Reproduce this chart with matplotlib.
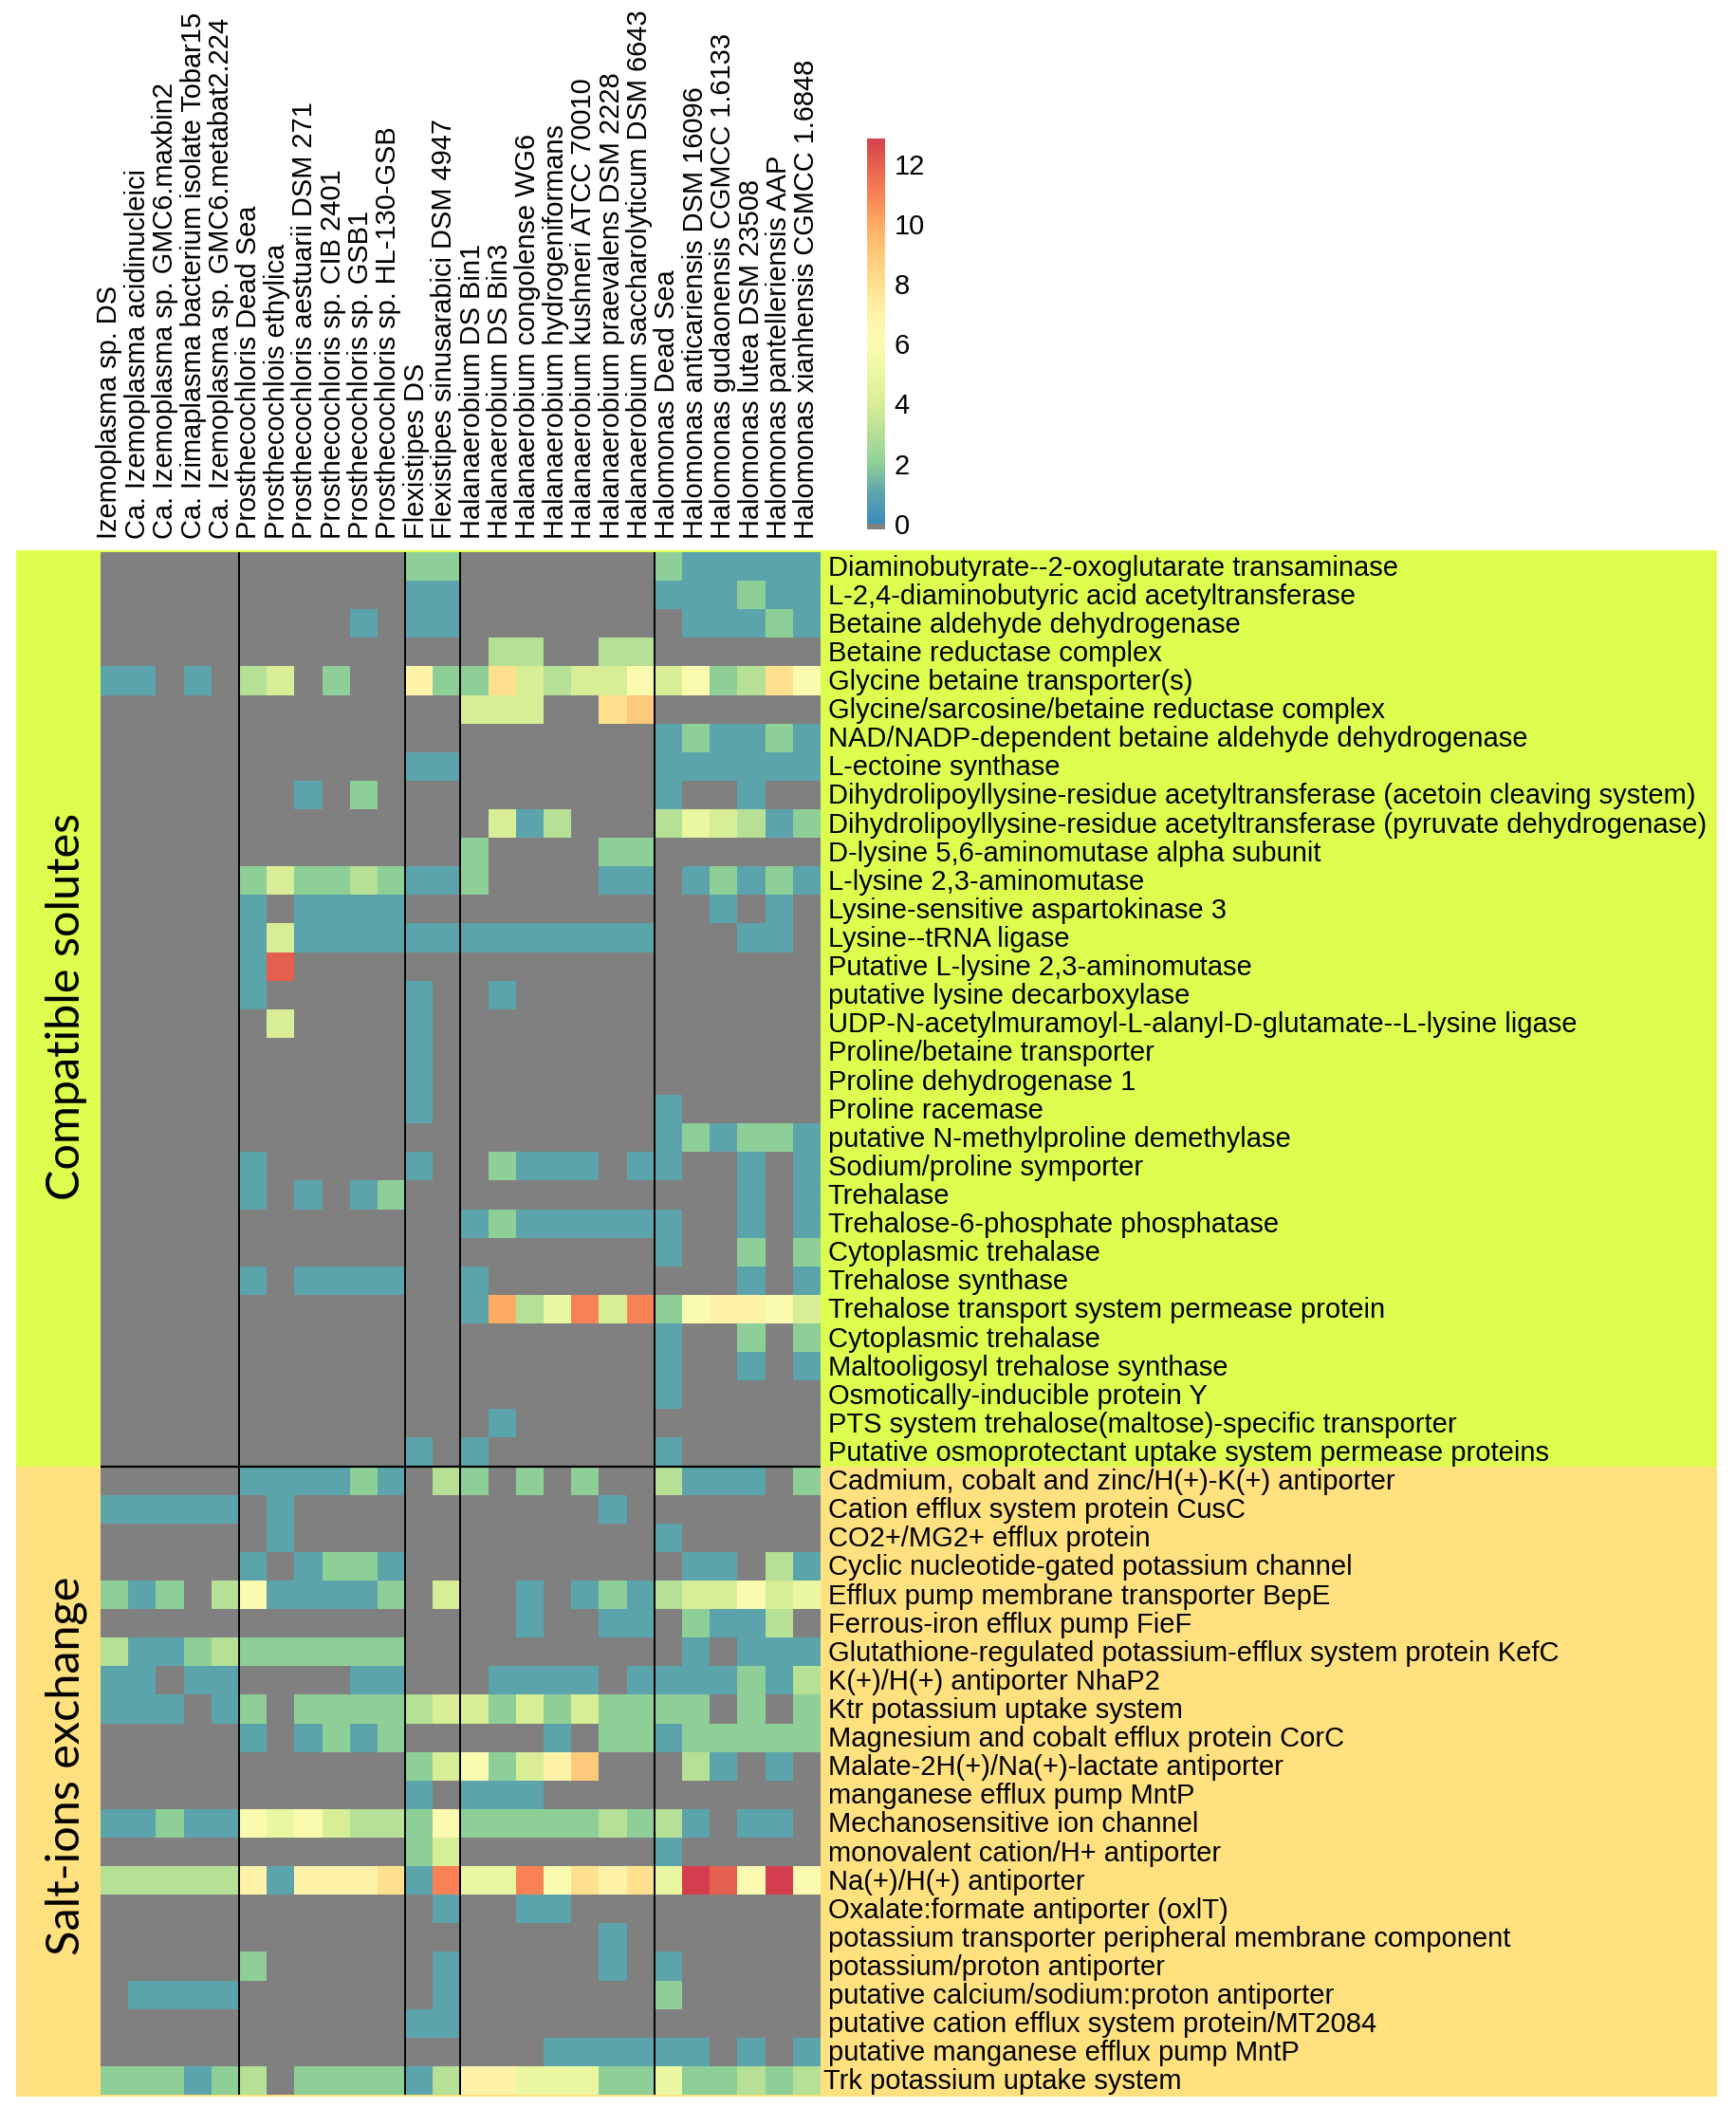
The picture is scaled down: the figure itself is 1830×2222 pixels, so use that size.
import matplotlib
matplotlib.use('Agg')
import matplotlib.pyplot as plt
from matplotlib.cm import ScalarMappable
from matplotlib.colors import LinearSegmentedColormap, Normalize
from matplotlib.patches import Rectangle
from matplotlib.transforms import ScaledTranslation
import numpy as np

genomes = [
    "Izemoplasma sp. DS", "Ca. Izemoplasma acidinucleici", "Ca. Izemoplasma sp. GMC6.maxbin2",
    "Ca. Izimaplasma bacterium isolate Tobar15", "Ca. Izemoplasma sp. GMC6.metabat2.224",
    "Prosthecochloris Dead Sea", "Prosthecochlois ethylica", "Prosthecochloris aestuarii DSM 271",
    "Prosthecochloris sp. CIB 2401", "Prosthecochloris sp. GSB1", "Prosthecochloris sp. HL-130-GSB",
    "Flexistipes DS", "Flexistipes sinusarabici DSM 4947",
    "Halanaerobium DS Bin1", "Halanaerobium DS Bin3", "Halanaerobium congolense WG6",
    "Halanaerobium hydrogeniformans", "Halanaerobium kushneri ATCC 70010",
    "Halanaerobium praevalens DSM 2228", "Halanaerobium saccharolyticum DSM 6643",
    "Halomonas Dead Sea", "Halomonas anticariensis DSM 16096", "Halomonas gudaonensis CGMCC 1.6133",
    "Halomonas lutea DSM 23508", "Halomonas pantelleriensis AAP", "Halomonas xianhensis CGMCC 1.6848",
]

solute_genes = [
    "Diaminobutyrate--2-oxoglutarate transaminase", "L-2,4-diaminobutyric acid acetyltransferase",
    "Betaine aldehyde dehydrogenase", "Betaine reductase complex", "Glycine betaine transporter(s)",
    "Glycine/sarcosine/betaine reductase complex", "NAD/NADP-dependent betaine aldehyde dehydrogenase",
    "L-ectoine synthase", "Dihydrolipoyllysine-residue acetyltransferase (acetoin cleaving system)",
    "Dihydrolipoyllysine-residue acetyltransferase (pyruvate dehydrogenase)",
    "D-lysine 5,6-aminomutase alpha subunit", "L-lysine 2,3-aminomutase", "Lysine-sensitive aspartokinase 3",
    "Lysine--tRNA ligase", "Putative L-lysine 2,3-aminomutase", "putative lysine decarboxylase",
    "UDP-N-acetylmuramoyl-L-alanyl-D-glutamate--L-lysine ligase", "Proline/betaine transporter",
    "Proline dehydrogenase 1", "Proline racemase", "putative N-methylproline demethylase",
    "Sodium/proline symporter", "Trehalase", "Trehalose-6-phosphate phosphatase", "Cytoplasmic trehalase",
    "Trehalose synthase", "Trehalose transport system permease protein", "Cytoplasmic trehalase",
    "Maltooligosyl trehalose synthase", "Osmotically-inducible protein Y",
    "PTS system trehalose(maltose)-specific transporter", "Putative osmoprotectant uptake system permease proteins",
]

salt_genes = [
    "Cadmium, cobalt and zinc/H(+)-K(+) antiporter", "Cation efflux system protein CusC", "CO2+/MG2+ efflux protein",
    "Cyclic nucleotide-gated potassium channel", "Efflux pump membrane transporter BepE",
    "Ferrous-iron efflux pump FieF", "Glutathione-regulated potassium-efflux system protein KefC",
    "K(+)/H(+) antiporter NhaP2", "Ktr potassium uptake system", "Magnesium and cobalt efflux protein CorC",
    "Malate-2H(+)/Na(+)-lactate antiporter", "manganese efflux pump MntP", "Mechanosensitive ion channel",
    "monovalent cation/H+ antiporter", "Na(+)/H(+) antiporter", "Oxalate:formate antiporter (oxlT)",
    "potassium transporter peripheral membrane component", "potassium/proton antiporter",
    "putative calcium/sodium:proton antiporter", "putative cation efflux system protein/MT2084",
    "putative manganese efflux pump MntP", "Trk potassium uptake system",
]

# gene counts, 0 = none (drawn grey)
solute_counts = [
    [0,0,0,0,0, 0,0,0,0,0,0, 2,2, 0,0,0,0,0,0,0, 2,1,1,1,1,1],
    [0,0,0,0,0, 0,0,0,0,0,0, 1,1, 0,0,0,0,0,0,0, 1,1,1,2,1,1],
    [0,0,0,0,0, 0,0,0,0,1,0, 1,1, 0,0,0,0,0,0,0, 0,1,1,1,2,1],
    [0,0,0,0,0, 0,0,0,0,0,0, 0,0, 0,3,3,0,0,3,3, 0,0,0,0,0,0],
    [1,1,0,1,0, 3,4,0,2,0,0, 7,2, 2,8,4,3,4,4,6, 4,6,2,3,8,6],
    [0,0,0,0,0, 0,0,0,0,0,0, 0,0, 4,4,4,0,0,8,9, 0,0,0,0,0,0],
    [0,0,0,0,0, 0,0,0,0,0,0, 0,0, 0,0,0,0,0,0,0, 1,2,1,1,2,1],
    [0,0,0,0,0, 0,0,0,0,0,0, 1,1, 0,0,0,0,0,0,0, 1,1,1,1,1,1],
    [0,0,0,0,0, 0,0,1,0,2,0, 0,0, 0,0,0,0,0,0,0, 1,0,0,1,0,0],
    [0,0,0,0,0, 0,0,0,0,0,0, 0,0, 0,4,1,3,0,0,0, 3,5,4,3,1,2],
    [0,0,0,0,0, 0,0,0,0,0,0, 0,0, 2,0,0,0,0,2,2, 0,0,0,0,0,0],
    [0,0,0,0,0, 2,4,2,2,3,2, 1,1, 2,0,0,0,0,1,1, 0,1,2,1,2,1],
    [0,0,0,0,0, 1,0,1,1,1,1, 0,0, 0,0,0,0,0,0,0, 0,0,1,0,1,0],
    [0,0,0,0,0, 1,4,1,1,1,1, 1,1, 1,1,1,1,1,1,1, 0,0,0,1,1,0],
    [0,0,0,0,0, 1,12,0,0,0,0, 0,0, 0,0,0,0,0,0,0, 0,0,0,0,0,0],
    [0,0,0,0,0, 1,0,0,0,0,0, 1,0, 0,1,0,0,0,0,0, 0,0,0,0,0,0],
    [0,0,0,0,0, 0,4,0,0,0,0, 1,0, 0,0,0,0,0,0,0, 0,0,0,0,0,0],
    [0,0,0,0,0, 0,0,0,0,0,0, 1,0, 0,0,0,0,0,0,0, 0,0,0,0,0,0],
    [0,0,0,0,0, 0,0,0,0,0,0, 1,0, 0,0,0,0,0,0,0, 0,0,0,0,0,0],
    [0,0,0,0,0, 0,0,0,0,0,0, 1,0, 0,0,0,0,0,0,0, 1,0,0,0,0,0],
    [0,0,0,0,0, 0,0,0,0,0,0, 0,0, 0,0,0,0,0,0,0, 1,2,1,2,2,1],
    [0,0,0,0,0, 1,0,0,0,0,0, 1,0, 0,2,1,1,1,0,1, 1,0,0,1,0,1],
    [0,0,0,0,0, 1,0,1,0,1,2, 0,0, 0,0,0,0,0,0,0, 0,0,0,1,0,1],
    [0,0,0,0,0, 0,0,0,0,0,0, 0,0, 1,2,1,1,1,1,1, 1,0,0,1,0,1],
    [0,0,0,0,0, 0,0,0,0,0,0, 0,0, 0,0,0,0,0,0,0, 1,0,0,2,0,2],
    [0,0,0,0,0, 1,0,1,1,1,1, 0,0, 1,0,0,0,0,0,0, 0,0,0,1,0,1],
    [0,0,0,0,0, 0,0,0,0,0,0, 0,0, 1,10,3,5,11,4,11, 2,6,7,7,6,4],
    [0,0,0,0,0, 0,0,0,0,0,0, 0,0, 0,0,0,0,0,0,0, 1,0,0,2,0,2],
    [0,0,0,0,0, 0,0,0,0,0,0, 0,0, 0,0,0,0,0,0,0, 1,0,0,1,0,1],
    [0,0,0,0,0, 0,0,0,0,0,0, 0,0, 0,0,0,0,0,0,0, 1,0,0,0,0,0],
    [0,0,0,0,0, 0,0,0,0,0,0, 0,0, 0,1,0,0,0,0,0, 0,0,0,0,0,0],
    [0,0,0,0,0, 0,0,0,0,0,0, 1,0, 1,0,0,0,0,0,0, 1,0,0,0,0,0],
]

salt_counts = [
    [0,0,0,0,0, 1,1,1,1,2,1, 0,3, 2,0,2,0,2,0,0, 3,1,1,1,0,2],
    [1,1,1,1,1, 0,1,0,0,0,0, 0,0, 0,0,0,0,0,1,0, 0,0,0,0,0,0],
    [0,0,0,0,0, 0,1,0,0,0,0, 0,0, 0,0,0,0,0,0,0, 1,0,0,0,0,0],
    [0,0,0,0,0, 1,0,1,2,2,1, 0,0, 0,0,0,0,0,0,0, 0,1,1,0,3,1],
    [2,1,2,0,3, 6,1,1,1,1,2, 0,4, 0,0,1,0,1,2,1, 3,4,4,6,4,5],
    [0,0,0,0,0, 0,0,0,0,0,0, 0,0, 0,0,1,0,0,1,1, 0,2,1,1,3,0],
    [3,1,1,2,3, 2,2,2,2,2,2, 0,0, 0,0,0,0,0,0,0, 0,1,0,1,1,1],
    [1,1,0,1,1, 0,0,0,0,1,1, 0,0, 0,1,1,1,1,0,1, 1,1,1,2,1,3],
    [1,1,1,0,1, 2,0,2,2,2,2, 3,4, 4,2,4,2,4,2,2, 2,2,0,2,0,2],
    [0,0,0,0,0, 1,0,1,2,1,2, 0,0, 0,0,0,1,0,2,2, 1,2,2,2,2,2],
    [0,0,0,0,0, 0,0,0,0,0,0, 2,4, 6,2,4,7,9,0,0, 0,3,1,0,1,0],
    [0,0,0,0,0, 0,0,0,0,0,0, 1,0, 1,1,1,0,0,0,0, 0,0,0,0,0,0],
    [1,1,2,1,1, 6,5,6,4,3,3, 2,6, 2,2,2,2,2,3,2, 3,1,0,1,1,0],
    [0,0,0,0,0, 0,0,0,0,0,0, 2,4, 0,0,0,0,0,0,0, 1,0,0,0,0,0],
    [3,3,3,3,3, 7,1,7,7,7,8, 1,11, 5,5,11,6,8,7,8, 5,13,12,6,13,6],
    [0,0,0,0,0, 0,0,0,0,0,0, 0,1, 0,0,1,1,0,0,0, 0,0,0,0,0,0],
    [0,0,0,0,0, 0,0,0,0,0,0, 0,0, 0,0,0,0,0,1,0, 0,0,0,0,0,0],
    [0,0,0,0,0, 2,0,0,0,0,0, 0,1, 0,0,0,0,0,1,0, 1,0,0,0,0,0],
    [0,1,1,1,1, 0,0,0,0,0,0, 0,1, 0,0,0,0,0,0,0, 2,0,0,0,0,0],
    [0,0,0,0,0, 0,0,0,0,0,0, 1,1, 0,0,0,0,0,0,0, 0,0,0,0,0,0],
    [0,0,0,0,0, 0,0,0,0,0,0, 0,0, 0,0,0,1,1,1,1, 1,1,0,1,0,1],
    [2,2,2,1,2, 3,0,2,2,2,2, 1,3, 7,7,5,5,5,2,2, 5,2,2,3,2,3],
]

# genus boundaries (column index)
genus_breaks = [5, 11, 13, 20]

W, H = 1831, 2222
LEFT, RIGHT, TOP, BOTTOM = 106, 865, 582, 2208

ramp = ['#3B8CBC', '#5DA5AB', '#8FD098', '#B5E095', '#D8EE96', '#EBF7A0', '#FBFBB0',
        '#FFF3AA', '#FEE08F', '#FDCA7B', '#FDAC62', '#F98255', '#E5604E', '#D33D4E']
cmap = LinearSegmentedColormap.from_list('counts', ramp, N=256)
cmap.set_bad('#808080')
norm = Normalize(0, 13)


def px_axes(x0, y0, x1, y1):
    return fig.add_axes([x0 / W, 1 - y1 / H, (x1 - x0) / W, (y1 - y0) / H])


fig = plt.figure(figsize=(W / 100, H / 100), dpi=100, facecolor='white')

bg = fig.add_axes([0, 0, 1, 1])
bg.set_xlim(0, W)
bg.set_ylim(H, 0)
bg.axis('off')

n_solute = len(solute_genes)
split = TOP + (BOTTOM - TOP) * n_solute / (n_solute + len(salt_genes))
bg.add_patch(Rectangle((17, TOP - 2), 1793, split - TOP + 2, facecolor='#DCFF4F', linewidth=0))
bg.add_patch(Rectangle((17, split), 1793, BOTTOM + 2 - split, facecolor='#FFE180', linewidth=0))

bg.text(70, 1061, 'Compatible solutes', rotation=90, ha='center', va='center',
        fontsize=35, family='Lato')
bg.text(70, 1861, 'Salt-ions exchange', rotation=90, ha='center', va='center',
        fontsize=35, family='Lato')

for i, name in enumerate(genomes):
    bg.text(115.5 + 29.4 * i, 568, name, rotation=90, ha='center', va='bottom',
            fontsize=20.9, family='Liberation Sans')

counts = np.array(solute_counts + salt_counts, dtype=float)
genes = solute_genes + salt_genes

ax = px_axes(LEFT, TOP, RIGHT, BOTTOM)
ax.set_facecolor('#808080')
ax.pcolormesh(np.ma.masked_equal(counts, 0), cmap=cmap, norm=norm, linewidth=0)
ax.set_xlim(0, len(genomes))
ax.set_ylim(len(genes), 0)
for col in genus_breaks:
    ax.axvline(col, color='black', linewidth=1.4)
ax.axhline(n_solute, color='black', linewidth=1.6)
ax.set_xticks([])
ax.yaxis.tick_right()
ax.set_yticks(np.arange(len(genes)) + 0.45)
ax.set_yticklabels(genes, fontsize=21, family='Liberation Sans')
ax.tick_params(axis='y', length=0, pad=5.5)
for side in ax.spines.values():
    side.set_visible(False)
# the last row label sits a little further left in the figure
last = ax.get_yticklabels()[-1]
last.set_transform(last.get_transform() + ScaledTranslation(-0.05, 0, fig.dpi_scale_trans))

cax = px_axes(914, 146, 933, 558)
cb = fig.colorbar(ScalarMappable(norm=norm, cmap=cmap), cax=cax)
cb.outline.set_visible(False)
cb.set_ticks(range(0, 13, 2))
cax.set_ylim(-0.2, 12.85)
cax.axhspan(-0.2, 0, color='#808080', linewidth=0)
cax.tick_params(length=0, labelsize=21, pad=7)
for t in cax.get_yticklabels():
    t.set_family('Liberation Sans')

fig.savefig('out.png', dpi=100)
